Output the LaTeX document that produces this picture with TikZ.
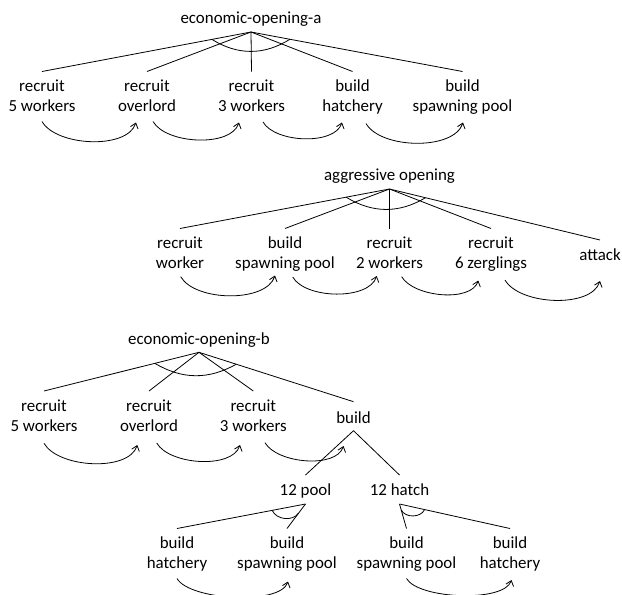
\documentclass[tikz,border=0pt]{standalone}
\usepackage{fontspec}
\setmainfont{Carlito}
\usetikzlibrary{arrows.meta,calc}
\newcommand\mytopstrut{\rule{0pt}{20pt}}
\begin{document}
\begin{tikzpicture}[x=1pt,y=-1pt,
  every node/.style={font=\fontsize{16.9}{20}\selectfont, inner sep=0pt, outer sep=0pt},
  leaf/.style={align=center, anchor=north},
  single/.style={anchor=base},
  edge/.style={line width=0.8pt},
  seqarc/.style={line width=0.8pt, -{Straight Barb[length=5pt,width=8pt]}, out=-60, in=-108, looseness=0.78},
  andarc/.style={line width=0.8pt}]
\useasboundingbox (0,0) rectangle (622,595);
% ---------- tree A ----------
\node[single, text depth=9pt] (rA) at (251,23) {economic-opening-a};
\node[leaf] (a1) at (42,71.5) {\mytopstrut recruit\\5 workers};
\node[leaf] (a2) at (147,71.5) {\mytopstrut recruit\\overlord};
\node[leaf] (a3) at (251.5,71.5) {\mytopstrut recruit\\3 workers};
\node[leaf] (a4) at (352.5,71.5) {\mytopstrut build\\hatchery};
\node[leaf] (a5) at (462.5,71.5) {\mytopstrut build\\spawning pool};
\foreach \n in {a1,a2,a3,a4,a5} {\draw[edge] (rA.south) -- (\n.north);}
\draw[andarc] ($(rA.south)!0.187!(a1.north)$) to[bend right=32] ($(rA.south)!0.184!(a5.north)$);
\draw[seqarc] ($(a1.north)+(0,50)$) to ($(a2.north)+(-11,51)$);
\draw[seqarc] ($(a2.north)+(6,50)$) to ($(a3.north)+(-12.5,51)$);
\draw[seqarc] ($(a3.north)+(11.5,50.5)$) to ($(a4.north)+(-10.5,51)$);
\draw[seqarc] ($(a4.north)+(13.5,52)$) to ($(a5.north)+(0.5,51)$);
% ---------- tree M ----------
\node[single, text depth=9pt] (rM) at (389.5,180) {aggressive opening};
\node[leaf] (m1) at (180,228.5) {\mytopstrut recruit\\worker};
\node[leaf] (m2) at (285,228.5) {\mytopstrut build\\spawning pool};
\node[leaf] (m3) at (389.5,228.5) {\mytopstrut recruit\\2 workers};
\node[leaf] (m4) at (491,228.5) {\mytopstrut recruit\\6 zerglings};
\node[single, text height=20pt] (m5) at (600,260) {attack};
\foreach \n in {m1,m2,m3,m4,m5} {\draw[edge] (rM.south) -- (\n.north);}
\draw[andarc] ($(rM.south)!0.207!(m1.north)$) to[bend right=31] ($(rM.south)!0.171!(m5.north)$);
\draw[seqarc] ($(m1.north)+(0.7,48.2)$) to ($(m2.north)+(-10,47)$);
\draw[seqarc] ($(m2.north)+(7.7,48.5)$) to ($(m3.north)+(-12.8,47.5)$);
\draw[seqarc] ($(m3.north)+(12.2,48.2)$) to ($(m4.north)+(-12.7,52)$);
\draw[seqarc] ($(m4.north)+(14,51.5)$) to ($(m5.north)+(0,41)$);
% ---------- tree B ----------
\node[single, text depth=8pt] (rB) at (199,344.3) {economic-opening-b};
\node[leaf] (b1) at (44,391) {\mytopstrut recruit\\5 workers};
\node[leaf] (b2) at (149,391) {\mytopstrut recruit\\overlord};
\node[leaf] (b3) at (253.3,391) {\mytopstrut recruit\\3 workers};
\node[single, text height=21.6pt, text depth=7.4pt] (bd) at (353.5,423.3) {build};
\foreach \n in {b1,b2,b3,bd} {\draw[edge] (rB.south) -- (\n.north);}
\draw[andarc] ($(rB.south)!0.285!(b1.north)$) to[bend right=30] ($(rB.south)!0.241!(bd.north)$);
\draw[seqarc] ($(b1.north)+(0,52.3)$) to ($(b2.north)+(-11.7,54)$);
\draw[seqarc] ($(b2.north)+(7.7,52)$) to ($(b3.north)+(-13.3,54)$);
\draw[seqarc] ($(b3.north)+(11.7,51.7)$) to ($(bd.south)+(-10,15.3)$);
\node[single, text height=20pt, text depth=9pt] (pl) at (305.5,495) {12 pool};
\node[single, text height=20pt, text depth=9pt] (ht) at (399.5,495) {12 hatch};
\draw[edge] (bd.south) -- (pl.north);
\draw[edge] (bd.south) -- (ht.north);
\node[leaf] (p1) at (177,528.5) {\mytopstrut build\\hatchery};
\node[leaf] (p2) at (287,528.5) {\mytopstrut build\\spawning pool};
\node[leaf] (h1) at (406.5,528.5) {\mytopstrut build\\spawning pool};
\node[leaf] (h2) at (510,528.5) {\mytopstrut build\\hatchery};
\draw[edge] (pl.south) -- (p1.north);
\draw[edge] (pl.south) -- (p2.north);
\draw[edge] (ht.south) -- (h1.north);
\draw[edge] (ht.south) -- (h2.north);
\draw[andarc] ($(pl.south)!0.259!(p1.north)$) to[bend right=60] ($(pl.south)!0.38!(p2.north)$);
\draw[andarc] ($(ht.south)!0.24!(h1.north)$) to[bend right=65] ($(ht.south)!0.227!(h2.north)$);
\draw[seqarc] ($(p1.north)+(0,50)$) to[looseness=0.58] ($(p2.north)+(1,53)$);
\draw[seqarc] ($(h1.north)+(0,50)$) to[looseness=0.58] ($(h2.north)+(1.5,51.5)$);
\end{tikzpicture}
\end{document}
